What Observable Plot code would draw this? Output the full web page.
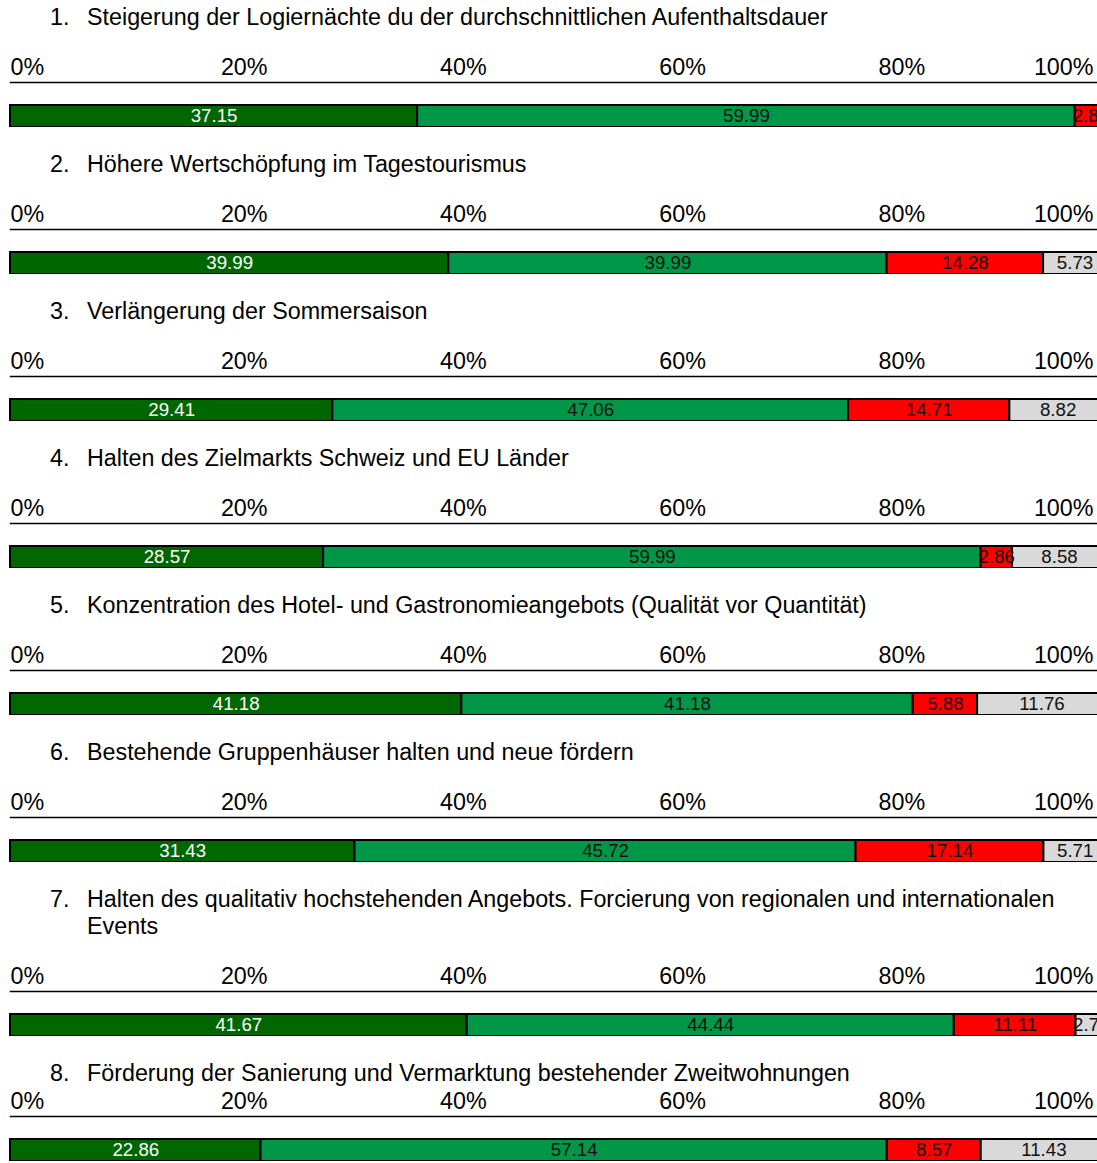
<!DOCTYPE html>
<html>
<head>
<meta charset="utf-8">
<script src="https://cdn.jsdelivr.net/npm/d3@7"></script>
<script src="https://cdn.jsdelivr.net/npm/@observablehq/plot@0.6"></script>
<style>
  html, body { margin: 0; padding: 0; background: #fff; overflow: hidden; }
  body { font-family: "Liberation Sans", Arial, sans-serif; color: #000; width: 1097px; }
  #root { padding-top: 3.5px; }
  .panel { margin-bottom: 24px; }
  .title { display: flex; font-size: 23.3px; line-height: 27px; padding-left: 50px; width: 1047px; }
  .title .num { flex: 0 0 37px; }
  .title .txt { flex: 1 1 auto; }
  .chart svg { display: block; }
  .tight .chart { margin-top: -22px; }
</style>
</head>
<body>
<div id="root"></div>
<script>
const categories = ["sehr wichtig", "wichtig", "weniger wichtig", "unwichtig"];
const colors = ["#006600", "#009848", "#ff0000", "#d9d9d9"];
const tickValues = [0, 20, 40, 60, 80, 100];
const tickLabels = ["0%", "20%", "40%", "60%", "80%", "100%"];

const titles = [
  "Steigerung der Logiernächte du der durchschnittlichen Aufenthaltsdauer",
  "Höhere Wertschöpfung im Tagestourismus",
  "Verlängerung der Sommersaison",
  "Halten des Zielmarkts Schweiz und EU Länder",
  "Konzentration des Hotel- und Gastronomieangebots (Qualität vor Quantität)",
  "Bestehende Gruppenhäuser halten und neue fördern",
  "Halten des qualitativ hochstehenden Angebots. Forcierung von regionalen und internationalen Events",
  "Förderung der Sanierung und Vermarktung bestehender Zweitwohnungen"
];

const values1 = [37.15, 59.99, 2.86, 0];
const values2 = [39.99, 39.99, 14.28, 5.73];
const values3 = [29.41, 47.06, 14.71, 8.82];
const values4 = [28.57, 59.99, 2.86, 8.58];
const values5 = [41.18, 41.18, 5.88, 11.76];
const values6 = [31.43, 45.72, 17.14, 5.71];
const values7 = [41.67, 44.44, 11.11, 2.78];
const values8 = [22.86, 57.14, 8.57, 11.43];
const allValues = [values1, values2, values3, values4, values5, values6, values7, values8];

const font = "'Liberation Sans', Arial, sans-serif";

function makeChart(vals) {
  const data = vals.map((v, i) => ({cat: categories[i], value: v})).filter(d => d.value > 0);
  const ticks = tickValues.map((t, i) => ({t, label: tickLabels[i]}));
  const fmt = d => d.value.toFixed(2);
  const tickStyle = {x: "t", text: "label", frameAnchor: "top", lineAnchor: "middle", dy: -38, fontSize: 23.3, fill: "#000"};
  return Plot.plot({
    width: 1097,
    height: 96,
    marginTop: 74,
    marginBottom: 0,
    marginLeft: 10,
    marginRight: 0,
    x: {domain: [0, 100], range: [10, 1106], axis: null},
    color: {domain: categories, range: colors},
    style: {fontFamily: font, background: "#fff", overflow: "hidden"},
    marks: [
      Plot.frame({anchor: "top", stroke: "#000", strokeWidth: 1.5, strokeDasharray: "1,1.5", dy: -23}),
      Plot.text(ticks.slice(0, 1), {...tickStyle, textAnchor: "start"}),
      Plot.text(ticks.slice(1, -1), {...tickStyle, dx: 14.5, textAnchor: "middle"}),
      Plot.text(ticks.slice(-1), {...tickStyle, dx: -13, textAnchor: "end"}),
      Plot.barX(data, {x: "value", fill: "cat", stroke: "#000", strokeWidth: 2}),
      Plot.text(data, Plot.stackX({x: "value", text: d => d.cat === categories[0] ? fmt(d) : null, fill: "#fff", fontSize: 18.7, frameAnchor: "middle"})),
      Plot.text(data, Plot.stackX({x: "value", text: d => d.cat !== categories[0] ? fmt(d) : null, fill: "#111", fontSize: 18.7, frameAnchor: "middle"}))
    ]
  });
}

const root = document.getElementById("root");
titles.forEach((title, i) => {
  const panel = document.createElement("div");
  panel.className = "panel" + (i === titles.length - 1 ? " tight" : "");
  const t = document.createElement("div");
  t.className = "title";
  const num = document.createElement("span");
  num.className = "num";
  num.textContent = (i + 1) + ".";
  const txt = document.createElement("span");
  txt.className = "txt";
  txt.textContent = title;
  t.appendChild(num);
  t.appendChild(txt);
  panel.appendChild(t);
  const c = document.createElement("div");
  c.className = "chart";
  c.appendChild(makeChart(allValues[i]));
  panel.appendChild(c);
  root.appendChild(panel);
});
</script>
</body>
</html>
